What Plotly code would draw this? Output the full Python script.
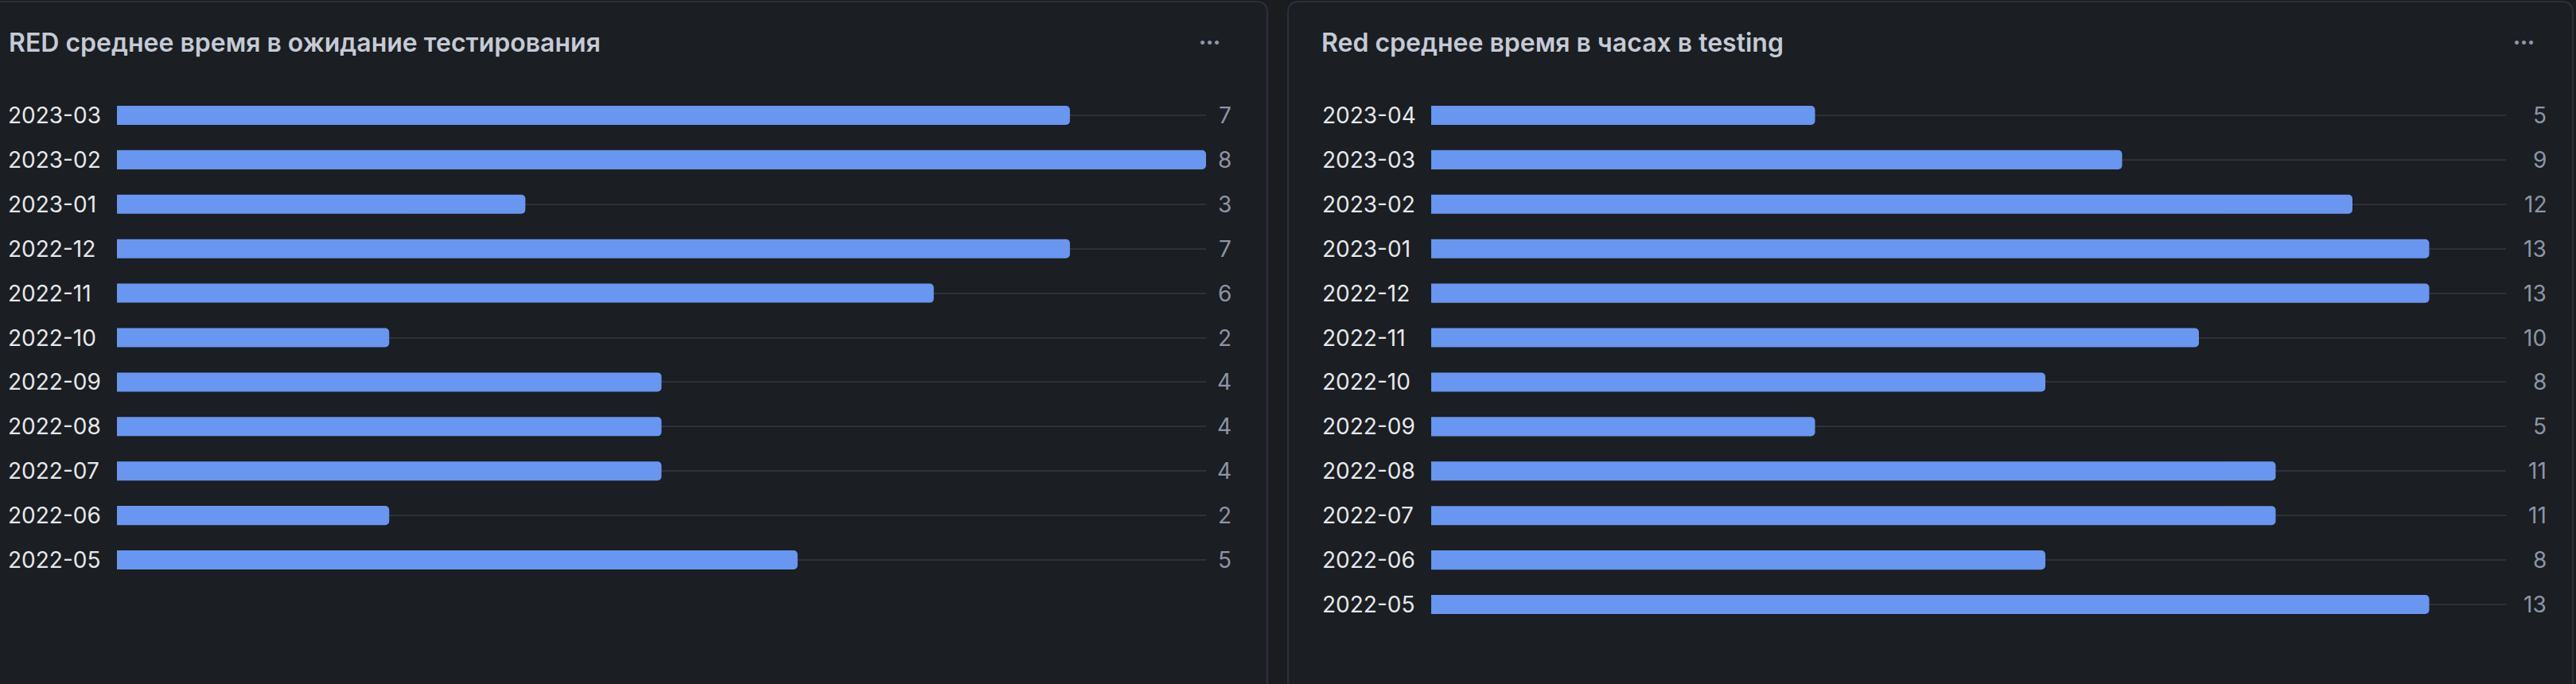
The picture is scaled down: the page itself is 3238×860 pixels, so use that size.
import plotly.graph_objects as go

# -- datos: panel izquierdo (espera de testing)
meses_espera = ["2023-03", "2023-02", "2023-01", "2022-12", "2022-11", "2022-10",
                "2022-09", "2022-08", "2022-07", "2022-06", "2022-05"]
valores_espera = [7, 8, 3, 7, 6, 2, 4, 4, 4, 2, 5]

# -- datos: panel derecho (horas en testing)
meses_testing = ["2023-04", "2023-03", "2023-02", "2023-01", "2022-12", "2022-11",
                 "2022-10", "2022-09", "2022-08", "2022-07", "2022-06", "2022-05"]
valores_testing = [5, 9, 12, 13, 13, 10, 8, 5, 11, 11, 8, 13]

titulo_espera = "RED среднее время в ожидание тестирования"
titulo_testing = "Red среднее время в часах в testing"

W, H = 3238, 860
FONT = "Inter"
AZUL = "#6896f0"
FONDO = "#1a1c20"
PANEL = "#1b1e22"
BORDE = "#2b303c"
TRACK = "#2e3138"


def px(x):
    return x / W


def py_(y):
    return 1 - y / H


def caja(x0, y0, x1, y1, r=14):
    # rectangulo redondeado en coordenadas paper
    pts = [
        f"M {px(x0 + r)},{py_(y0)}",
        f"L {px(x1 - r)},{py_(y0)}",
        f"Q {px(x1)},{py_(y0)} {px(x1)},{py_(y0 + r)}",
        f"L {px(x1)},{py_(y1 - r)}",
        f"Q {px(x1)},{py_(y1)} {px(x1 - r)},{py_(y1)}",
        f"L {px(x0 + r)},{py_(y1)}",
        f"Q {px(x0)},{py_(y1)} {px(x0)},{py_(y1 - r)}",
        f"L {px(x0)},{py_(y0 + r)}",
        f"Q {px(x0)},{py_(y0)} {px(x0 + r)},{py_(y0)}",
        "Z",
    ]
    return " ".join(pts)


fig = go.Figure()

# barras
fig.add_trace(go.Bar(x=valores_espera, y=meses_espera, orientation="h",
                     marker=dict(color=AZUL, cornerradius=5, line=dict(width=0)), width=0.43,
                     xaxis="x", yaxis="y", hoverinfo="skip"))
fig.add_trace(go.Bar(x=valores_testing, y=meses_testing, orientation="h",
                     marker=dict(color=AZUL, cornerradius=5, line=dict(width=0)), width=0.43,
                     xaxis="x2", yaxis="y2", hoverinfo="skip"))

eje_x = dict(showgrid=False, zeroline=False, showticklabels=False, showline=False, fixedrange=True)
eje_y = dict(showgrid=True, gridcolor=TRACK, gridwidth=2, zeroline=False, showticklabels=False,
             showline=False, autorange="reversed", type="category", fixedrange=True)

fig.update_layout(
    width=W, height=H,
    margin=dict(l=0, r=0, t=0, b=0),
    paper_bgcolor=FONDO, plot_bgcolor="rgba(0,0,0,0)",
    showlegend=False,
    bargap=0.5,
    xaxis=dict(eje_x, domain=[px(147), px(1516)], range=[0, 8], anchor="y"),
    yaxis=dict(eje_y, domain=[py_(732), py_(117)], anchor="x"),
    xaxis2=dict(eje_x, domain=[px(1799), px(3150)], range=[0, 14], anchor="y2"),
    yaxis2=dict(eje_y, domain=[py_(788), py_(117)], anchor="x2"),
)

# paneles
fig.add_shape(type="path", path=caja(-30, 2, 1593, 900), xref="paper", yref="paper",
              fillcolor=PANEL, line=dict(color=BORDE, width=2), layer="below")
fig.add_shape(type="path", path=caja(1619, 2, 3234, 900), xref="paper", yref="paper",
              fillcolor=PANEL, line=dict(color=BORDE, width=2), layer="below")

anot = []
# titulos
for x0, t in [(9, titulo_espera), (1659, titulo_testing)]:
    anot.append(dict(text=t, xref="paper", yref="paper", x=px(x0), y=py_(54),
                     xanchor="left", yanchor="middle", showarrow=False,
                     font=dict(family=FONT, size=32, color="#c5cad6", weight=600)))
# menu "..."
for x0 in [1520, 3172]:
    anot.append(dict(text="•••", xref="paper", yref="paper", x=px(x0), y=py_(52),
                     xanchor="center", yanchor="middle", showarrow=False,
                     font=dict(family=FONT, size=16, color="#8f96a8")))

# etiquetas de categorias y valores
for meses, vals, yr, xl, xv in [(meses_espera, valores_espera, "y", 8, 1550),
                                (meses_testing, valores_testing, "y2", 1660, 3203)]:
    for m, v in zip(meses, vals):
        anot.append(dict(text=m, xref="paper", yref=yr, x=px(xl), y=m,
                         xanchor="left", yanchor="middle", showarrow=False,
                         font=dict(family=FONT, size=28, color="#e6e8ec")))
        anot.append(dict(text=str(v), xref="paper", yref=yr, x=px(xv), y=m,
                         xanchor="right", yanchor="middle", showarrow=False,
                         font=dict(family=FONT, size=28, color="#8d94a5")))

fig.update_layout(annotations=anot)

# quitar el margen del body para que la figura empiece en 0,0
fig.write_html("out.html", config={"displayModeBar": False},
               post_script="document.body.style.margin='0';document.body.style.background='#1a1c20';")
